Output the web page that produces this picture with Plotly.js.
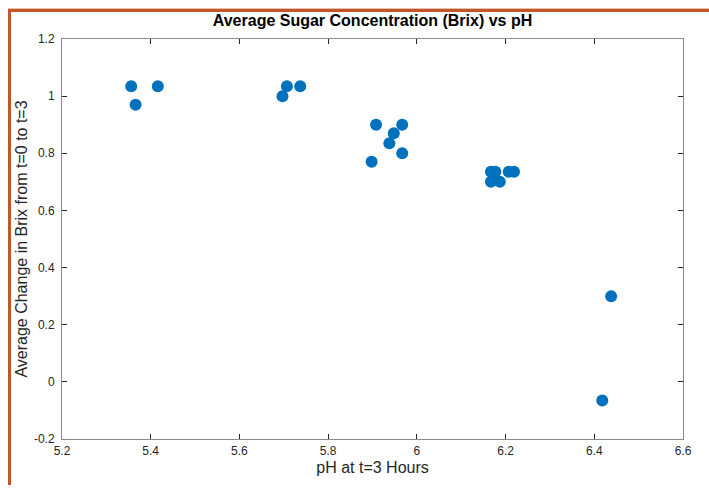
<!DOCTYPE html>
<html>
<head>
<meta charset="utf-8">
<script src="https://cdn.plot.ly/plotly-3.0.1.min.js"></script>
<style>
  html, body { margin: 0; padding: 0; background: #ffffff; }
  #wrap { position: relative; width: 709px; height: 496px; overflow: hidden; }
  #chart { position: absolute; left: 0; top: 0; width: 709px; height: 496px; }
  .frameTop { position: absolute; left: 8px; top: 8px; width: 701px; height: 3px; background: #c0562a; border-top: 1px solid #ebbfa8; }
  .frameLeft { position: absolute; left: 8px; top: 9px; width: 3px; height: 476px; background: #c0562a; }
</style>
</head>
<body>
<div id="wrap">
  <div id="chart"></div>
  <div class="frameTop"></div>
  <div class="frameLeft"></div>
</div>
<script>
// Data
var phValues = [5.356, 5.366, 5.416, 5.697, 5.707, 5.737, 5.898, 5.908, 5.938, 5.948, 5.967, 5.967, 6.167, 6.177, 6.167, 6.187, 6.207, 6.219, 6.438, 6.418];
var brixChange = [1.035, 0.97, 1.035, 1.0, 1.035, 1.035, 0.77, 0.90, 0.835, 0.87, 0.90, 0.80, 0.735, 0.735, 0.70, 0.70, 0.735, 0.735, 0.30, -0.065];

var xTickVals = [5.2, 5.4, 5.6, 5.8, 6.0, 6.2, 6.4, 6.6];
var xTickText = ["5.2", "5.4", "5.6", "5.8", "6", "6.2", "6.4", "6.6"];
var yTickVals = [-0.2, 0, 0.2, 0.4, 0.6, 0.8, 1.0, 1.2];
var yTickText = ["-0.2", "0", "0.2", "0.4", "0.6", "0.8", "1", "1.2"];

var trace = {
  x: phValues,
  y: brixChange,
  type: 'scatter',
  mode: 'markers',
  marker: { color: '#0072BD', size: 12, line: { width: 0 } },
  hoverinfo: 'x+y'
};

var fam = 'Liberation Sans, Arial, Helvetica, sans-serif';
var axisFont = { family: fam, size: 12, color: '#262626' };

var layout = {
  width: 709,
  height: 496,
  paper_bgcolor: '#ffffff',
  plot_bgcolor: '#ffffff',
  margin: { l: 62, r: 26, t: 39, b: 57 },
  showlegend: false,
  title: {
    text: '<b>Average Sugar Concentration (Brix) vs pH</b>',
    font: { family: fam, size: 16, color: '#000000' },
    x: 0.5, xref: 'paper',
    y: 1 - 20 / 496, yref: 'container', yanchor: 'middle'
  },
  xaxis: {
    range: [5.2, 6.6],
    tickmode: 'array',
    tickvals: xTickVals,
    ticktext: xTickText,
    ticks: 'inside',
    ticklen: 5,
    tickwidth: 1,
    tickcolor: '#262626',
    ticklabelstandoff: 1,
    showgrid: false,
    zeroline: false,
    showline: true,
    linecolor: '#8a8a8a',
    linewidth: 1,
    mirror: 'ticks',
    tickfont: axisFont,
    title: {
      text: 'pH at t=3 Hours',
      font: { family: fam, size: 16, color: '#262626' },
      standoff: 4
    }
  },
  yaxis: {
    range: [-0.2, 1.2],
    tickmode: 'array',
    tickvals: yTickVals,
    ticktext: yTickText,
    ticks: 'inside',
    ticklen: 5,
    tickwidth: 1,
    tickcolor: '#262626',
    ticklabelstandoff: 4,
    showgrid: false,
    zeroline: false,
    showline: true,
    linecolor: '#8a8a8a',
    linewidth: 1,
    mirror: 'ticks',
    tickfont: axisFont,
    title: {
      text: 'Average Change in Brix from t=0 to t=3',
      font: { family: fam, size: 16, color: '#262626' },
      standoff: 2
    }
  }
};

Plotly.newPlot('chart', [trace], layout, { displayModeBar: false, staticPlot: true });
</script>
</body>
</html>
